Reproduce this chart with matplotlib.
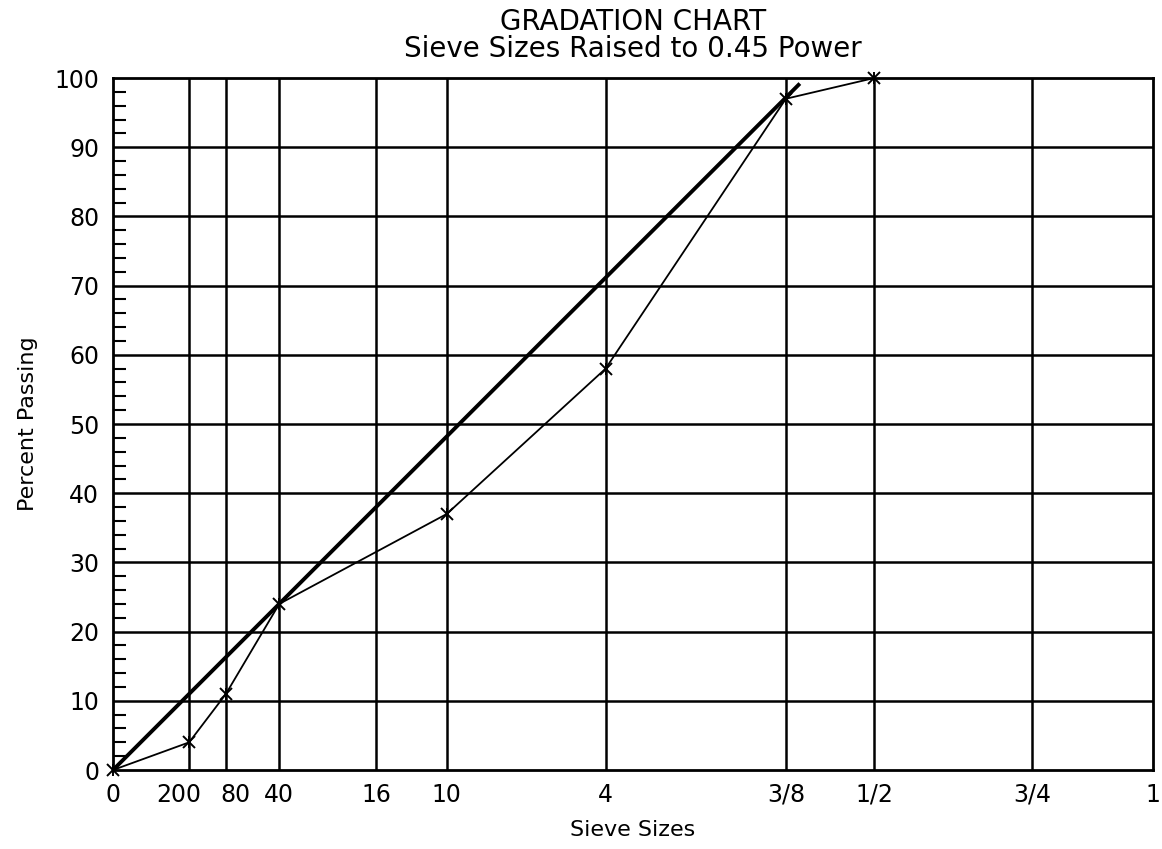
import numpy as np
import matplotlib.pyplot as plt
from matplotlib.transforms import ScaledTranslation

# sieve openings in mm, x axis is size ** 0.45
sieve_labels = ['0', '200', '80', '40', '16', '10', '4', '3/8', '1/2', '3/4', '1']
sieve_mm = [0.0, 0.075, 0.18, 0.425, 1.18, 2.0, 4.75, 9.5, 12.5, 19.0, 25.0]

# gradation of the sample
sample_mm = [0.0, 0.075, 0.18, 0.425, 2.0, 4.75, 9.5, 12.5]
sample_pct = [0, 4, 11, 24, 37, 58, 97, 100]

# maximum density line
maxden_mm = [0.0, 9.9]
maxden_pct = [0, 99]

p = 0.45
sx = np.array(sieve_mm) ** p
smp_x = np.array(sample_mm) ** p

fig = plt.figure(figsize=(11.62, 8.49), dpi=100)
ax = fig.add_axes([113 / 1162, 1 - 770 / 849, 1040 / 1162, 692 / 849])

ax.set_xlim(0, sx[-1])
ax.set_ylim(0, 100)

# grid
for x in sx[1:-1]:
    ax.axvline(x, color='black', lw=1.8, zorder=1)
for y in range(10, 100, 10):
    ax.axhline(y, color='black', lw=1.8, zorder=1)

ax.plot(np.array(maxden_mm) ** p, maxden_pct, color='black', lw=2.8, zorder=3)
ax.plot(smp_x, sample_pct, color='black', lw=1.3, zorder=4)
# asterisk-like markers
ax.plot(smp_x, sample_pct, ls='none', marker='x', color='black',
        markersize=8, markeredgewidth=1.4, zorder=5, clip_on=False)
ax.plot(smp_x, sample_pct, ls='none', marker='|', color='black',
        markersize=9, markeredgewidth=1.4, zorder=5, clip_on=False)

ax.set_xticks(sx)
ax.set_xticklabels(sieve_labels)
ax.set_yticks(range(0, 101, 10))
ax.set_yticks(range(0, 101, 2), minor=True)
ax.tick_params(axis='x', which='major', length=0, pad=9, labelsize=17)
ax.tick_params(axis='y', which='major', length=0, pad=10, labelsize=17)
ax.tick_params(axis='y', which='minor', direction='in', length=9, width=1.5)

# nudge the crowded small-sieve labels apart
shifts = {'200': -10, '80': 10}
for lab in ax.get_xticklabels():
    d = shifts.get(lab.get_text(), 0)
    if d:
        lab.set_transform(lab.get_transform() + ScaledTranslation(d / 100, 0, fig.dpi_scale_trans))

for s in ax.spines.values():
    s.set_linewidth(2)

ax.set_xlabel('Sieve Sizes', fontsize=16, labelpad=10)
ax.set_ylabel('Percent Passing', fontsize=16, labelpad=12)
ax.set_title('GRADATION CHART\nSieve Sizes Raised to 0.45 Power', fontsize=20,
             linespacing=0.95, pad=15)

fig.savefig('out.png', dpi=100)
